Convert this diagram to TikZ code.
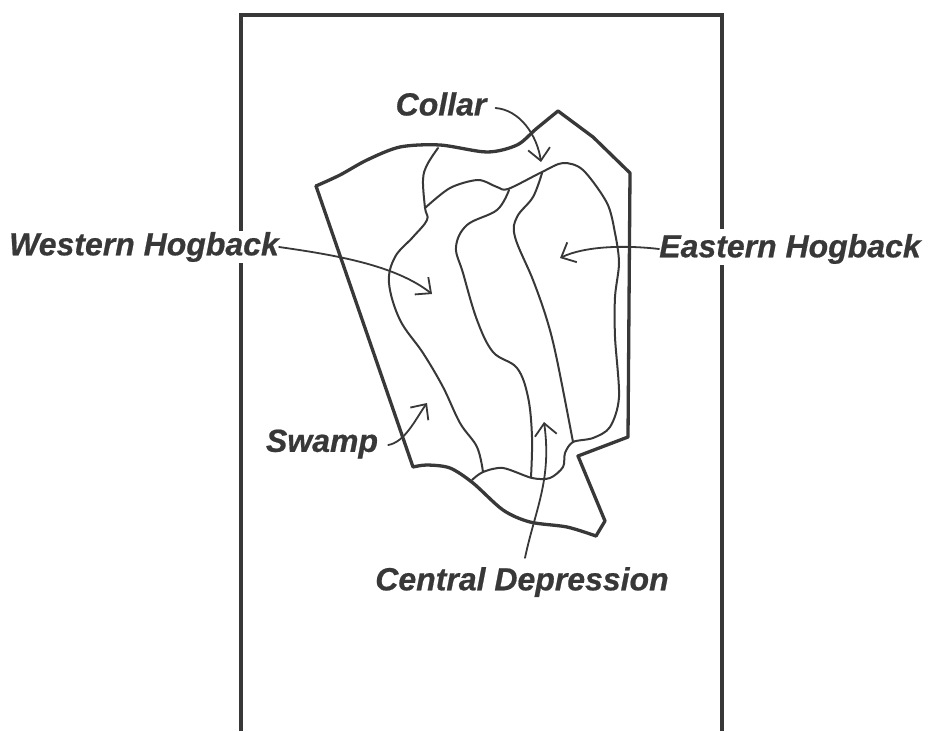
\documentclass[tikz,border=0pt]{standalone}
\usepackage{fontspec}
\setmainfont{Liberation Sans}
\usetikzlibrary{arrows.meta}
\definecolor{ink}{gray}{0.22}
\tikzset{
  frameline/.style={draw=ink,line width=3.2pt,line cap=butt,line join=miter},
  outline/.style={draw=ink,line width=3.3pt,line join=round,line cap=round},
  contour/.style={draw=ink,line width=2pt,line join=round,line cap=round},
  pointer/.style={draw=ink,line width=1.8pt,line cap=round,-{Straight Barb[length=12pt,width=22pt,line width=1.8pt]}},
  lbl/.style={font=\bfseries\itshape\fontsize{32}{32}\selectfont\addfontfeature{FakeBold=0.6},text=ink,inner sep=0pt,anchor=center}
}
\begin{document}
\begin{tikzpicture}[x=1pt,y=-1pt]
\useasboundingbox (0,0) rectangle (928,731);
\fill[white] (0,0) rectangle (928,731);
% frame, broken where the labels cross it
\draw[frameline] (241,731) -- (241,263);
\draw[frameline] (241,231) -- (241,15) -- (722,15) -- (722,229);
\draw[frameline] (722,265) -- (722,731);
% region outline
\draw[outline] plot[smooth,tension=.5] coordinates {(316,186) (340,175) (367,160) (400,147) (440,145) (487,152) (517,145) (536,129) (558,111)}
  -- (593,137) -- (630,173) -- (628,437) -- (578,456) -- (605,521) -- (596,536);
\draw[outline] plot[smooth,tension=.5] coordinates {(596,536) (567,527) (530,522) (503,510) (473,483) (450,468) (427,465) (413,467)} -- (316,186);
% inner contours
\draw[contour] plot[smooth,tension=.6] coordinates {(438,148) (427,165) (423,180) (425,208) (427,220) (413,237) (395,257) (389,283) (400,320) (423,353) (443,387) (460,423) (477,447) (483,472)};
\draw[contour] plot[smooth,tension=.5] coordinates {(425,208) (450,188) (478,180) (497,187) (508,189) (542,172) (563,163) (583,170) (607,203) (615,233) (619,263) (615,297) (615,337) (619,397) (610,427) (593,438) (573,442) (565,453) (563,467) (550,478) (532,478) (503,468) (483,472) (472,480)};
\draw[contour] plot[smooth,tension=.6] coordinates {(509,190) (497,210) (467,225) (456,247) (463,273) (477,320) (493,352) (517,368) (528,397) (532,437) (531,477)};
\draw[contour] plot[smooth,tension=.6] coordinates {(542,173) (533,197) (517,217) (515,237) (533,280) (547,320) (557,360) (573,442)};
% labels
\node[lbl] (collar) at (441,104) {Collar};
\node[lbl] (western) at (144,247) {Western Hogback};
\node[lbl] (eastern) at (790,249) {Eastern Hogback};
\node[lbl] (swamp) at (322,444) {Swamp};
\node[lbl] (central) at (522,582) {Central Depression};
% pointers
\coordinate (tc) at (541,162);
\coordinate (tw) at (432,294);
\coordinate (te) at (560,258);
\coordinate (ts) at (427,403);
\coordinate (td) at (544,422);
\draw[pointer] (collar.east)++(9,4) .. controls (520,110) and (537,135) .. (tc);
\draw[pointer] (western.east) .. controls (335,255) and (395,265) .. (tw);
\draw[pointer] (eastern.west) .. controls (625,245) and (585,246) .. (te);
\draw[pointer] (swamp.east)++(10,1) .. controls (405,442) and (415,420) .. (ts);
\draw[pointer] (central.north)++(3,-9) .. controls (535,510) and (552,480) .. (td);
\end{tikzpicture}
\end{document}
